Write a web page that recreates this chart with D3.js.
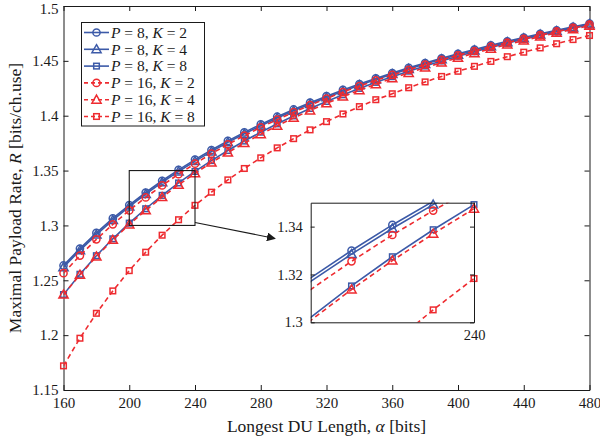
<!DOCTYPE html>
<html><head><meta charset="utf-8">
<script src="https://cdn.jsdelivr.net/npm/d3@7"></script>
<style>
body{margin:0;background:#fff}
text{font-family:"Liberation Serif","Times New Roman",serif;fill:#1a1a1a}
</style>
</head><body>
<svg id="chart" width="600" height="443"></svg>
<script>
// Longest DU length (bits)
const alpha = [160,170,180,190,200,210,220,230,240,250,260,270,280,290,300,310,320,330,340,350,360,370,380,390,400,410,420,430,440,450,460,470,480];

// Maximal payload rate (bits/ch.use) per (P, K)
const rateP8K2 = [1.2635,1.2789,1.2932,1.3064,1.3186,1.3300,1.3407,1.3506,1.3600,1.3687,1.3770,1.3848,1.3921,1.3991,1.4057,1.4119,1.4178,1.4235,1.4289,1.4340,1.4389,1.4436,1.4480,1.4523,1.4564,1.4603,1.4641,1.4678,1.4712,1.4746,1.4778,1.4810,1.4840];
const rateP8K4 = [1.2619,1.2773,1.2916,1.3048,1.3171,1.3285,1.3392,1.3492,1.3586,1.3673,1.3757,1.3835,1.3908,1.3979,1.4045,1.4107,1.4167,1.4224,1.4278,1.4330,1.4379,1.4426,1.4471,1.4514,1.4555,1.4595,1.4633,1.4670,1.4705,1.4739,1.4771,1.4804,1.4834];
const rateP8K8 = [1.2370,1.2555,1.2724,1.2878,1.3021,1.3152,1.3274,1.3387,1.3492,1.3591,1.3683,1.3769,1.3850,1.3926,1.3998,1.4066,1.4130,1.4191,1.4249,1.4304,1.4356,1.4406,1.4453,1.4499,1.4542,1.4583,1.4623,1.4661,1.4697,1.4732,1.4766,1.4798,1.4829];
const rateP16K2 = [1.2565,1.2725,1.2873,1.3010,1.3137,1.3255,1.3365,1.3467,1.3563,1.3654,1.3739,1.3818,1.3894,1.3965,1.4032,1.4096,1.4157,1.4215,1.4270,1.4322,1.4372,1.4419,1.4465,1.4509,1.4550,1.4590,1.4629,1.4666,1.4701,1.4735,1.4768,1.4800,1.4830];
const rateP16K4 = [1.2370,1.2550,1.2716,1.2868,1.3008,1.3137,1.3258,1.3370,1.3475,1.3573,1.3664,1.3750,1.3831,1.3908,1.3980,1.4048,1.4113,1.4174,1.4232,1.4287,1.4340,1.4390,1.4438,1.4484,1.4528,1.4570,1.4610,1.4649,1.4686,1.4721,1.4755,1.4788,1.4820];
const rateP16K8 = [1.1720,1.1972,1.2199,1.2403,1.2588,1.2756,1.2911,1.3052,1.3183,1.3303,1.3415,1.3519,1.3616,1.3707,1.3791,1.3871,1.3946,1.4016,1.4083,1.4146,1.4200,1.4255,1.4308,1.4358,1.4405,1.4450,1.4495,1.4538,1.4579,1.4618,1.4656,1.4694,1.4731];

const seriesP = [8, 8, 8, 16, 16, 16];
const seriesK = [2, 4, 8, 2, 4, 8];
const seriesRates = [rateP8K2, rateP8K4, rateP8K8, rateP16K2, rateP16K4, rateP16K8];

const xTicks = [160,200,240,280,320,360,400,440,480];
const yTicks = [1.15,1.2,1.25,1.3,1.35,1.4,1.45,1.5];
const insetXTicks = [240];
const insetYTicks = [1.3,1.32,1.34];

const BLUE = "#3c5aa8", RED = "#ee2b30", INK = "#1a1a1a";
const styles = [
  {color: BLUE, dash: null, shape: "circle"},
  {color: BLUE, dash: null, shape: "triangle"},
  {color: BLUE, dash: null, shape: "square"},
  {color: RED, dash: "5,3.5", shape: "circle"},
  {color: RED, dash: "5,3.5", shape: "triangle"},
  {color: RED, dash: "5,3.5", shape: "square"}
];

const series = seriesRates.map((r, i) => ({
  P: seriesP[i], K: seriesK[i], ...styles[i],
  pts: alpha.map((a, j) => ({a, r: r[j]}))
}));

const svg = d3.select("#chart");
const L = 63.5, R = 589.5, T = 6, B = 390;
const x = d3.scaleLinear().domain([160, 480]).range([L, R]);
const y = d3.scaleLinear().domain([1.15, 1.5]).range([B, T]);

function drawMarker(g, shape, color, cx, cy) {
  if (shape === "circle") {
    g.append("circle").attr("cx", cx).attr("cy", cy).attr("r", 3.6)
      .attr("fill", "none").attr("stroke", color).attr("stroke-width", 1.5);
  } else if (shape === "triangle") {
    const h = 4.6;
    g.append("path").attr("d", `M${cx},${cy - h}L${cx + h},${cy + h * 0.75}L${cx - h},${cy + h * 0.75}Z`)
      .attr("fill", "none").attr("stroke", color).attr("stroke-width", 1.5);
  } else {
    const s = 2.8;
    g.append("rect").attr("x", cx - s).attr("y", cy - s).attr("width", 2 * s).attr("height", 2 * s)
      .attr("fill", "none").attr("stroke", color).attr("stroke-width", 1.5);
  }
}

// ---- main axes ----
svg.append("rect").attr("x", L).attr("y", T).attr("width", R - L).attr("height", B - T).attr("fill", "#fff");

function styleAxis(g) {
  g.select(".domain").attr("stroke", INK);
  g.selectAll(".tick line").attr("stroke", INK);
  g.selectAll("text").attr("fill", INK).style("font-size", "15px")
    .style("font-family", '"Liberation Serif", serif');
}
svg.append("g").attr("transform", `translate(0,${B})`)
  .call(d3.axisBottom(x).tickValues(xTicks).tickFormat(d3.format("d")).tickSizeInner(-5).tickSizeOuter(0).tickPadding(7))
  .call(styleAxis);
const yAxisG = svg.append("g").attr("transform", `translate(${L},0)`)
  .call(d3.axisLeft(y).tickValues(yTicks).tickFormat(d => d3.format("")(+d.toFixed(2))).tickSizeInner(-5).tickSizeOuter(0).tickPadding(5))
  .call(styleAxis);
// keep the topmost tick label inside the canvas
yAxisG.selectAll(".tick text").filter(d => d === 1.5).attr("dy", "0.5em");
svg.append("g").attr("transform", `translate(0,${T})`)
  .call(d3.axisTop(x).tickValues(xTicks).tickFormat("").tickSizeInner(-5).tickSizeOuter(0))
  .call(styleAxis);
svg.append("g").attr("transform", `translate(${R},0)`)
  .call(d3.axisRight(y).tickValues(yTicks).tickFormat("").tickSizeInner(-5).tickSizeOuter(0))
  .call(styleAxis);

// ---- curves ----
const clipMain = svg.append("clipPath").attr("id", "clipMain");
clipMain.append("rect").attr("x", L).attr("y", T).attr("width", R - L).attr("height", B - T);
const plot = svg.append("g");
series.forEach(s => {
  const line = d3.line().x(d => x(d.a)).y(d => y(d.r));
  plot.append("path").attr("d", line(s.pts)).attr("fill", "none")
    .attr("stroke", s.color).attr("stroke-width", 1.6)
    .attr("stroke-dasharray", s.dash).attr("clip-path", "url(#clipMain)");
  const mg = plot.append("g");
  s.pts.forEach(d => drawMarker(mg, s.shape, s.color, x(d.a), y(d.r)));
});

// ---- axis titles ----
const xt = svg.append("text").attr("x", (L + R) / 2).attr("y", 432).attr("text-anchor", "middle").style("font-size", "17.5px");
xt.append("tspan").text("Longest DU Length, ");
xt.append("tspan").attr("font-style", "italic").text("α");
xt.append("tspan").text(" [bits]");

const yt = svg.append("text").attr("transform", `translate(21,${(T + B) / 2}) rotate(-90)`)
  .attr("text-anchor", "middle").style("font-size", "17.5px");
yt.append("tspan").text("Maximal Payload Rate, ");
yt.append("tspan").attr("font-style", "italic").text("R");
yt.append("tspan").text(" [bits/ch.use]");

// ---- legend ----
const lg = svg.append("g");
lg.append("rect").attr("x", 81.5).attr("y", 22.5).attr("width", 123).attr("height", 103.5)
  .attr("fill", "#fff").attr("stroke", INK).attr("stroke-width", 1);
series.forEach((s, i) => {
  const cy = 32.5 + i * 16.8;
  lg.append("line").attr("x1", 84).attr("x2", 109).attr("y1", cy).attr("y2", cy)
    .attr("stroke", s.color).attr("stroke-width", 1.6).attr("stroke-dasharray", s.dash ? "4,3" : null);
  drawMarker(lg, s.shape, s.color, 96.5, cy);
  const t = lg.append("text").attr("x", 111).attr("y", cy + 5.2).style("font-size", "15.5px");
  t.append("tspan").attr("font-style", "italic").text("P");
  t.append("tspan").text(` = ${s.P}, `);
  t.append("tspan").attr("font-style", "italic").text("K");
  t.append("tspan").text(` = ${s.K}`);
});

// ---- zoom box and arrow ----
const zx0 = 200, zx1 = 240, zy0 = 1.30, zy1 = 1.35;
svg.append("rect").attr("x", x(zx0)).attr("y", y(zy1)).attr("width", x(zx1) - x(zx0)).attr("height", y(zy0) - y(zy1))
  .attr("fill", "none").attr("stroke", INK).attr("stroke-width", 1.1);
const defs = svg.append("defs");
defs.append("marker").attr("id", "arrowHead").attr("viewBox", "0 0 10 10").attr("refX", 9).attr("refY", 5)
  .attr("markerWidth", 9).attr("markerHeight", 9).attr("markerUnits", "userSpaceOnUse").attr("orient", "auto")
  .append("path").attr("d", "M0,0L10,5L0,10Z").attr("fill", INK);
svg.append("line").attr("x1", x(zx1)).attr("y1", y(zy0) - 3).attr("x2", 275).attr("y2", 238.5)
  .attr("stroke", INK).attr("stroke-width", 1.1).attr("marker-end", "url(#arrowHead)");

// ---- inset ----
const iL = 310.7, iR = 474, iT = 202.7, iB = 322.3;
const ix = d3.scaleLinear().domain([zx0, zx1]).range([iL, iR]);
const iy = d3.scaleLinear().domain([zy0, zy1]).range([iB, iT]);
const inset = svg.append("g");
inset.append("rect").attr("x", iL).attr("y", iT).attr("width", iR - iL).attr("height", iB - iT).attr("fill", "#fff");
const clipIn = svg.append("clipPath").attr("id", "clipInset");
clipIn.append("rect").attr("x", iL).attr("y", iT).attr("width", iR - iL).attr("height", iB - iT);
series.forEach(s => {
  const line = d3.line().x(d => ix(d.a)).y(d => iy(d.r));
  inset.append("path").attr("d", line(s.pts)).attr("fill", "none")
    .attr("stroke", s.color).attr("stroke-width", 1.6)
    .attr("stroke-dasharray", s.dash).attr("clip-path", "url(#clipInset)");
  const mg = inset.append("g");
  s.pts.filter(d => d.a > zx0 && d.a <= zx1 && d.r >= zy0 && d.r <= zy1)
    .forEach(d => drawMarker(mg, s.shape, s.color, ix(d.a), iy(d.r)));
});
function styleInset(g) {
  g.select(".domain").attr("stroke", INK);
  g.selectAll(".tick line").attr("stroke", INK);
  g.selectAll("text").attr("fill", INK).style("font-size", "14.5px")
    .style("font-family", '"Liberation Serif", serif');
}
inset.append("g").attr("transform", `translate(0,${iB})`)
  .call(d3.axisBottom(ix).tickValues(insetXTicks).tickFormat(d3.format("d")).tickSizeInner(-4).tickSizeOuter(0).tickPadding(7))
  .call(styleInset);
inset.append("g").attr("transform", `translate(${iL},0)`)
  .call(d3.axisLeft(iy).tickValues(insetYTicks).tickFormat(d => d3.format("")(+d.toFixed(2))).tickSizeInner(-4).tickSizeOuter(0).tickPadding(8))
  .call(styleInset);
inset.append("g").attr("transform", `translate(0,${iT})`)
  .call(d3.axisTop(ix).tickValues(insetXTicks).tickFormat("").tickSizeInner(-4).tickSizeOuter(0))
  .call(styleInset);
inset.append("g").attr("transform", `translate(${iR},0)`)
  .call(d3.axisRight(iy).tickValues(insetYTicks).tickFormat("").tickSizeInner(-4).tickSizeOuter(0))
  .call(styleInset);
</script>
</body></html>
